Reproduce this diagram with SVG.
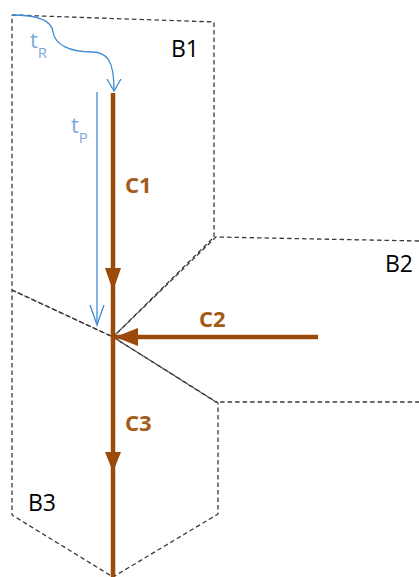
<svg xmlns="http://www.w3.org/2000/svg" width="419" height="577" viewBox="0 0 419 577">
<style>
.b{fill:none;stroke:#3a3a3a;stroke-width:1.3;stroke-dasharray:4.5 3}
.c{stroke:#9C4A0A;stroke-width:4.5;fill:none}
.ah{fill:#9C4A0A}
.cl{font-family:"Open Sans","Liberation Sans",sans-serif;font-weight:bold;font-size:22px;fill:#A65A17}
.bl{font-family:"Open Sans","Liberation Sans",sans-serif;font-size:23px;fill:#000}
.t{stroke:#3F8AD6;stroke-width:1.3;fill:none}
.tl{font-family:"Open Sans","Liberation Sans",sans-serif;font-size:22px;fill:#7FA8DC}
.sub{font-size:15px}
</style>
<g id="B1"><polyline class="b" points="12,15 214,22 214,237 113,337 12,290 12,15"/><text class="bl" x="171" y="57">B1</text></g>
<g id="B2"><polyline class="b" points="419,241 216,237 113,337 216,402 419,402"/><text class="bl" x="385" y="272">B2</text></g>
<g id="B3"><polyline class="b" points="12,290 113,337 218,403 218,514 113,577 12,515 12,290"/><text class="bl" x="28" y="511">B3</text></g>
<g id="connectors">
<line class="c" x1="113" y1="93" x2="113" y2="337"/>
<polygon class="ah" points="105,268 121,268 113,291"/>
<line class="c" x1="318" y1="337" x2="113" y2="337"/>
<polygon class="ah" points="138,328 138,346 115,337"/>
<line class="c" x1="113" y1="337" x2="113" y2="577"/>
<polygon class="ah" points="105,452 121,452 113,472"/>
<path class="t" d="M12,15 C40,15 52,22 53,32 C55,45 70,52 92,52 C108,52 114,62 114,90"/>
<polyline class="t" points="107,79 114,91 121,79"/>
<line class="t" x1="97" y1="92" x2="97" y2="325"/>
<polyline class="t" points="90,305 97,325 104,305"/>
</g>
<g id="labels">
<text class="cl" x="125" y="193">C1</text>
<text class="cl" x="199" y="327">C2</text>
<text class="cl" x="125" y="431">C3</text>
<text class="tl" x="30" y="48">t<tspan class="sub" dy="10">R</tspan></text>
<text class="tl" x="71" y="133">t<tspan class="sub" dy="10">P</tspan></text>
</g>
</svg>
